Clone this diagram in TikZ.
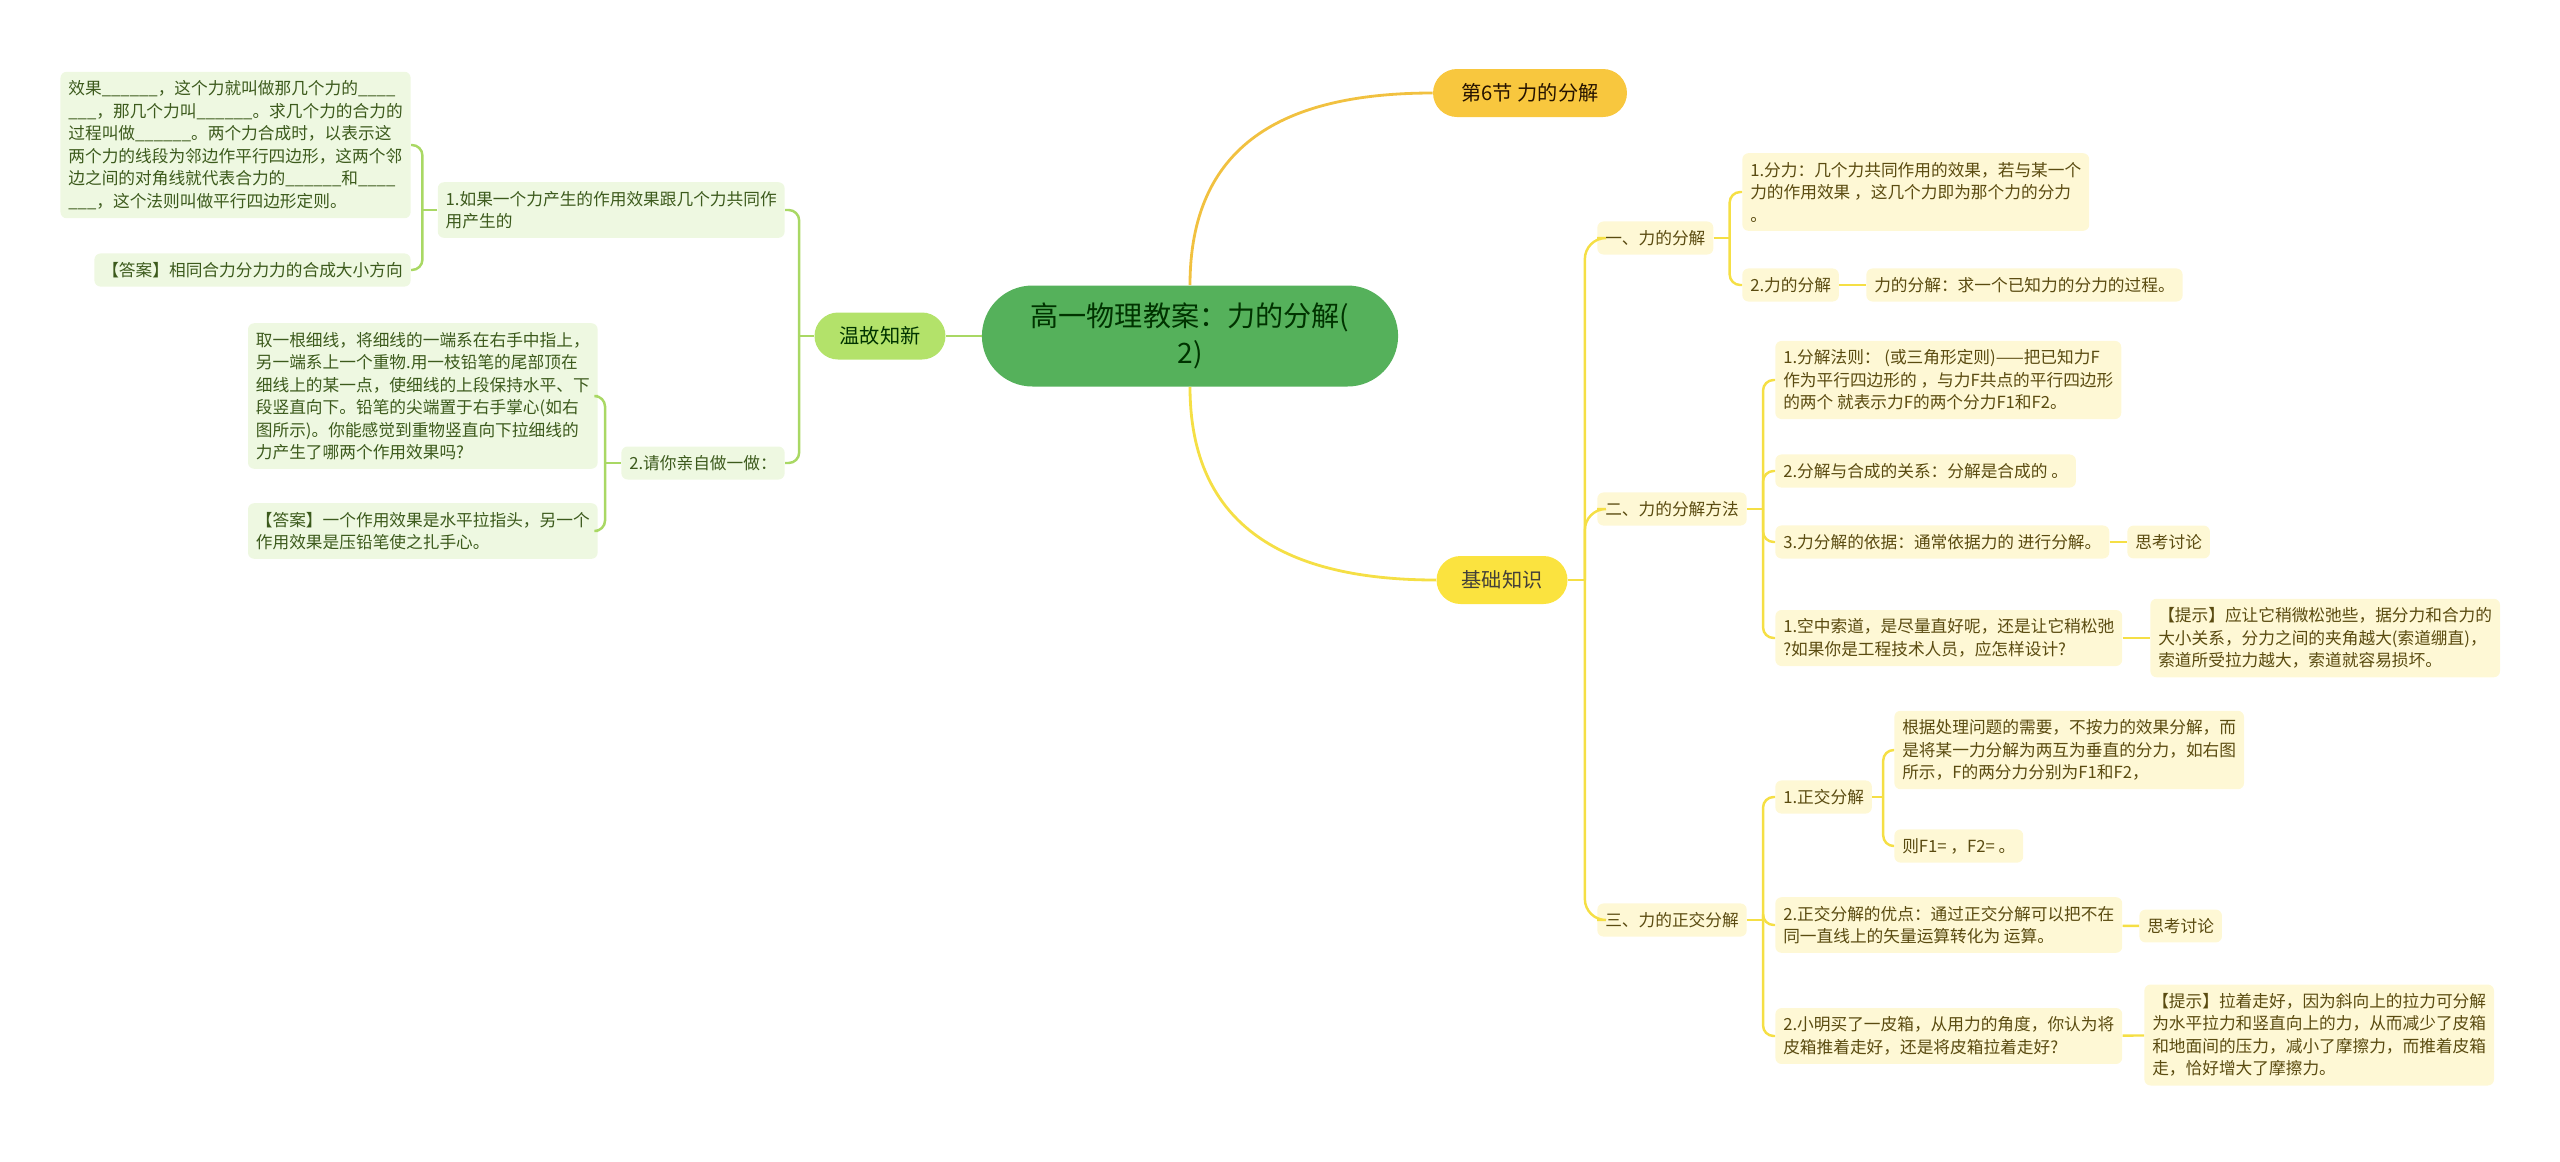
\documentclass[tikz,border=0pt]{standalone}
\usepackage{fontspec}
\setmainfont{Noto Sans CJK SC}
\usetikzlibrary{shapes.misc, positioning}

\definecolor{rootgreen}{HTML}{55B15B}
\definecolor{lgreen}{HTML}{B3E26A}
\definecolor{orng}{HTML}{F8C73E}
\definecolor{ylw}{HTML}{FBE33F}
\definecolor{leafy}{HTML}{FEF8D5}
\definecolor{leafg}{HTML}{EEF8E1}
\definecolor{liney}{HTML}{F5DF45}
\definecolor{lineg}{HTML}{A9D864}
\definecolor{lineo}{HTML}{F1C140}
\definecolor{txty}{HTML}{5A4B10}
\definecolor{txtg}{HTML}{3C5A1C}

\begin{document}
\begin{tikzpicture}[
  x=0.02cm, y=-0.02cm,
  topic/.style={rounded rectangle, fill=rootgreen, text=black!80!green, font=\fontsize{16}{21}\selectfont, align=center, minimum width=8.56cm, minimum height=2.02cm},
  main/.style={rounded rectangle, font=\fontsize{11.5}{14}\selectfont, minimum height=0.96cm, inner xsep=0pt},
  yleaf/.style={rectangle, rounded corners=3.5pt, fill=leafy, text=txty, font=\fontsize{9.5}{12.8}\selectfont, align=left, inner xsep=4.5pt, inner ysep=5pt},
  gleaf/.style={rectangle, rounded corners=3.5pt, fill=leafg, text=txtg, font=\fontsize{9.5}{12.8}\selectfont, align=left, inner xsep=4.5pt, inner ysep=5pt},
  lnk/.style={line width=1.6pt},
  ybr/.style={draw=liney, line width=1.4pt, rounded corners=6pt},
  gbr/.style={draw=lineg, line width=1.4pt, rounded corners=6pt},
]
\useasboundingbox (0,0) rectangle (2560,1161);

%% Centre and main topics
\node[topic] (root) at (1190,336) {高一物理教案：力的分解(\\2)};
\node[main, fill=orng, text=black!85!orange, minimum width=3.88cm] (sec6) at (1530,93) {第6节 力的分解};
\node[main, fill=ylw, text=black!85!yellow, minimum width=2.62cm] (jczs) at (1502,580) {基础知识};
\node[main, fill=lgreen, text=black!80!green, minimum width=2.62cm, minimum height=0.94cm] (wgzx) at (880,336) {温故知新};

%% Left branch
\node[gleaf, anchor=east] (l1) at (785,210) {1.如果一个力产生的作用效果跟几个力共同作\\用产生的};
\node[gleaf, anchor=east] (l1a) at (411,145) {效果\_\_\_\_\_\_，这个力就叫做那几个力的\_\_\_\_\\\_\_\_，那几个力叫\_\_\_\_\_\_。求几个力的合力的\\过程叫做\_\_\_\_\_\_。两个力合成时，以表示这\\两个力的线段为邻边作平行四边形，这两个邻\\边之间的对角线就代表合力的\_\_\_\_\_\_和\_\_\_\_\\\_\_\_，这个法则叫做平行四边形定则。};
\node[gleaf, anchor=east] (l1b) at (411,270) {【答案】相同合力分力力的合成大小方向};
\node[gleaf, anchor=east] (l2) at (785,463) {2.请你亲自做一做：};
\node[gleaf, anchor=east] (l2a) at (598,396) {取一根细线，将细线的一端系在右手中指上，\\另一端系上一个重物.用一枝铅笔的尾部顶在\\细线上的某一点，使细线的上段保持水平、下\\段竖直向下。铅笔的尖端置于右手掌心(如右\\图所示)。你能感觉到重物竖直向下拉细线的\\力产生了哪两个作用效果吗?};
\node[gleaf, anchor=east] (l2b) at (598,531) {【答案】一个作用效果是水平拉指头，另一个\\作用效果是压铅笔使之扎手心。};

%% Right branch, part one
\node[yleaf, anchor=west] (s1) at (1597,238) {一、力的分解};
\node[yleaf, anchor=west] (s1a) at (1742,192) {1.分力：几个力共同作用的效果，若与某一个\\力的作用效果 ，这几个力即为那个力的分力\\。};
\node[yleaf, anchor=west] (s1b) at (1742,285) {2.力的分解};
\node[yleaf, anchor=west] (s1c) at (1866,285) {力的分解：求一个已知力的分力的过程。};

%% Right branch, part two
\node[yleaf, anchor=west] (s2) at (1597,509) {二、力的分解方法};
\node[yleaf, anchor=west] (s2a) at (1775,380) {1.分解法则： (或三角形定则)——把已知力F\\作为平行四边形的 ，与力F共点的平行四边形\\的两个 就表示力F的两个分力F1和F2。};
\node[yleaf, anchor=west] (s2b) at (1775,471) {2.分解与合成的关系：分解是合成的 。};
\node[yleaf, anchor=west] (s2c) at (1775,542) {3.力分解的依据：通常依据力的 进行分解。};
\node[yleaf, anchor=west] (s2d) at (2127,542) {思考讨论};
\node[yleaf, anchor=west] (s2e) at (1775,638) {1.空中索道，是尽量直好呢，还是让它稍松弛\\?如果你是工程技术人员，应怎样设计?};
\node[yleaf, anchor=west] (s2f) at (2150,638) {【提示】应让它稍微松弛些，据分力和合力的\\大小关系，分力之间的夹角越大(索道绷直)，\\索道所受拉力越大，索道就容易损坏。};

%% Right branch, part three
\node[yleaf, anchor=west] (s3) at (1597,920) {三、力的正交分解};
\node[yleaf, anchor=west] (s3a) at (1775,797) {1.正交分解};
\node[yleaf, anchor=west] (s3b) at (1894,750) {根据处理问题的需要，不按力的效果分解，而\\是将某一力分解为两互为垂直的分力，如右图\\所示，F的两分力分别为F1和F2，};
\node[yleaf, anchor=west] (s3c) at (1894,846) {则F1= ，F2= 。};
\node[yleaf, anchor=west] (s3d) at (1775,925) {2.正交分解的优点：通过正交分解可以把不在\\同一直线上的矢量运算转化为 运算。};
\node[yleaf, anchor=west] (s3e) at (2139,926) {思考讨论};
\node[yleaf, anchor=west] (s3f) at (1775,1036) {2.小明买了一皮箱，从用力的角度，你认为将\\皮箱推着走好，还是将皮箱拉着走好?};
\node[yleaf, anchor=west] (s3g) at (2144,1035) {【提示】拉着走好，因为斜向上的拉力可分解\\为水平拉力和竖直向上的力，从而减少了皮箱\\和地面间的压力，减小了摩擦力，而推着皮箱\\走，恰好增大了摩擦力。};

%% Links from the centre
\draw[lnk, draw=lineo] (root.north) .. controls +(0,-140) and +(-150,0) .. (sec6.west);
\draw[lnk, draw=liney] (root.south) .. controls +(0,140) and +(-150,0) .. (jczs.west);
\draw[lnk, draw=lineg] (root.west) -- (wgzx.east);

%% Left brackets
\draw[gbr] (wgzx.west) -- ++(-15,0) coordinate (jw);
\draw[gbr] (jw) |- (l1.east);
\draw[gbr] (jw) |- (l2.east);
\draw[gbr] (l1.west) -- ++(-15,0) coordinate (jl1);
\draw[gbr] (jl1) |- (l1a.east);
\draw[gbr] (jl1) |- (l1b.east);
\draw[gbr] (l2.west) -- ++(-16,0) coordinate (jl2);
\draw[gbr] (jl2) |- (l2a.east);
\draw[gbr] (jl2) |- (l2b.east);

%% Right brackets
\draw[ybr] (jczs.east) -- ++(17,0) coordinate (jb);
\draw[ybr, rounded corners=12pt] (jb) |- (s1.west);
\draw[ybr, rounded corners=12pt] (jb) |- (s2.west);
\draw[ybr, rounded corners=12pt] (jb) |- (s3.west);

\draw[ybr] (s1.east) -- ++(16,0) coordinate (j1);
\draw[ybr] (j1) |- (s1a.west);
\draw[ybr] (j1) |- (s1b.west);
\draw[ybr] (s1b) -- (s1c);

\draw[ybr] (s2.east) -- ++(16,0) coordinate (j2);
\draw[ybr] (j2) |- (s2a.west);
\draw[ybr] (j2) |- (s2b.west);
\draw[ybr] (j2) |- (s2c.west);
\draw[ybr] (j2) |- (s2e.west);
\draw[ybr] (s2c) -- (s2d);
\draw[ybr] (s2e) -- (s2f);

\draw[ybr] (s3.east) -- ++(16,0) coordinate (j3);
\draw[ybr] (j3) |- (s3a.west);
\draw[ybr] (j3) |- (s3d.west);
\draw[ybr] (j3) |- (s3f.west);
\draw[ybr] (s3a.east) -- ++(11,0) coordinate (j31);
\draw[ybr] (j31) |- (s3b.west);
\draw[ybr] (j31) |- (s3c.west);
\draw[ybr] (s3d) -- (s3e);
\draw[ybr] (s3f) -- (s3g);
\end{tikzpicture}
\end{document}
